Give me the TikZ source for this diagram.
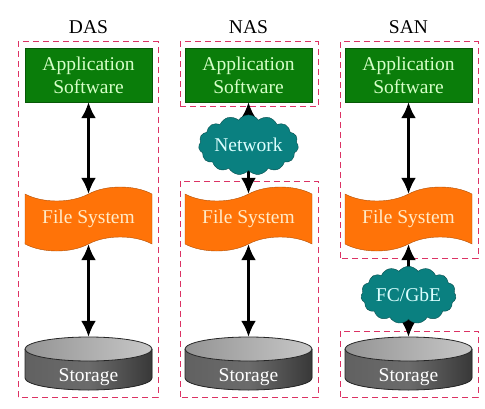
\documentclass[tikz,border=0pt]{standalone}
\usepackage{fontspec}
\setmainfont{Liberation Serif}
\usetikzlibrary{shapes.symbols,arrows.meta}
\definecolor{AppGreen}{HTML}{0A7D0A}
\definecolor{AppText}{HTML}{D6FFC8}
\definecolor{FsOrange}{HTML}{FF7308}
\definecolor{FsText}{HTML}{FFEBC8}
\definecolor{NetTeal}{HTML}{0A8080}
\definecolor{NetText}{HTML}{DCFFFF}
\definecolor{BoxRed}{HTML}{DC3264}

% cylinder drawn round a storage node centre
\newcommand{\diskat}[1]{
  \fill[left color=black!62, right color=black!78, middle color=black!58]
    (#1-63.5,59) -- (#1-63.5,30) arc[start angle=180, end angle=360, x radius=63.5, y radius=12]
    -- (#1+63.5,59) -- cycle;
  \draw[black!85, line width=0.8pt]
    (#1-63.5,59) -- (#1-63.5,30) arc[start angle=180, end angle=360, x radius=63.5, y radius=12]
    -- (#1+63.5,59);
  \shade[left color=black!42, right color=black!22, draw=black!85, line width=0.8pt]
    (#1,59) ellipse[x radius=63.5, y radius=12];
}

\begin{document}
\begin{tikzpicture}[x=1pt,y=1pt, every node/.style={font=\fontsize{19.5}{23}\selectfont}]
  \tikzset{
    appbox/.style={rectangle, fill=AppGreen, draw=AppGreen!70!black, text=AppText,
      minimum width=127pt, minimum height=54pt, align=center, inner sep=0pt},
    fsflag/.style={tape, fill=FsOrange, draw=FsOrange!70!black, text=FsText,
      minimum width=127pt, minimum height=64pt, tape bend height=14pt, inner sep=0pt},
    netcloud/.style={cloud, cloud puffs=15, cloud puff arc=110, aspect=1.9, fill=NetTeal,
      draw=NetTeal!60!black, text=NetText, minimum width=90pt, minimum height=50pt, inner sep=0pt},
    diskbox/.style={rectangle, minimum width=127pt, minimum height=53pt, inner sep=0pt},
    grpbox/.style={draw=BoxRed, line width=1pt, dash pattern=on 6pt off 4pt},
    link/.style={line width=2.4pt, {Latex[length=16pt,width=15pt]}-{Latex[length=16pt,width=15pt]}},
    uplink/.style={line width=2.4pt, {Latex[length=16pt,width=15pt]}-},
    downlink/.style={line width=2.4pt, -{Latex[length=16pt,width=15pt]}}
  }
  \useasboundingbox (0,0) rectangle (485,408);
  % dashed groups
  \draw[grpbox] (18,11) rectangle (158,366);
  \draw[grpbox] (180,301) rectangle (318,366);
  \draw[grpbox] (180,11) rectangle (318,227);
  \draw[grpbox] (340,150) rectangle (478,366);
  \draw[grpbox] (340,11) rectangle (478,77);
  % titles
  \node (das) at (88.5,381) {DAS};
  \node (nas) at (248.5,381) {NAS};
  \node (san) at (408.5,381) {SAN};
  % disks
  \diskat{88.5}
  \diskat{248.5}
  \diskat{408.5}
  % DAS
  \node[appbox] (app1) at (88.5,333) {Application\\Software};
  \node[fsflag] (fs1) at (88.5,189) {File System};
  \node[diskbox] (st1) at (88.5,44.5) {};
  \node[text=white] (st1t) at (88.5,31) {Storage};
  % NAS
  \node[appbox] (app2) at (248.5,333) {Application\\Software};
  \node[fsflag] (fs2) at (248.5,189) {File System};
  \node[diskbox] (st2) at (248.5,44.5) {};
  \node[text=white] (st2t) at (248.5,31) {Storage};
  % SAN
  \node[appbox] (app3) at (408.5,333) {Application\\Software};
  \node[fsflag] (fs3) at (408.5,189) {File System};
  \node[diskbox] (st3) at (408.5,44.5) {};
  \node[text=white] (st3t) at (408.5,31) {Storage};
  % links
  \draw[link] (app1.south) -- (fs1.north);
  \draw[link] (fs1.south) -- (st1.north);
  \draw[uplink] (app2.south) -- (248.5,263);
  \draw[downlink] (248.5,263) -- (fs2.north);
  \draw[link] (fs2.south) -- (st2.north);
  \draw[link] (app3.south) -- (fs3.north);
  \draw[uplink] (fs3.south) -- (408.5,113);
  \draw[downlink] (408.5,113) -- (st3.north);
  % networks on top
  \node[netcloud] (net) at (248.5,263) {Network};
  \node[netcloud] (fc) at (408.5,113) {FC/GbE};
\end{tikzpicture}
\end{document}
